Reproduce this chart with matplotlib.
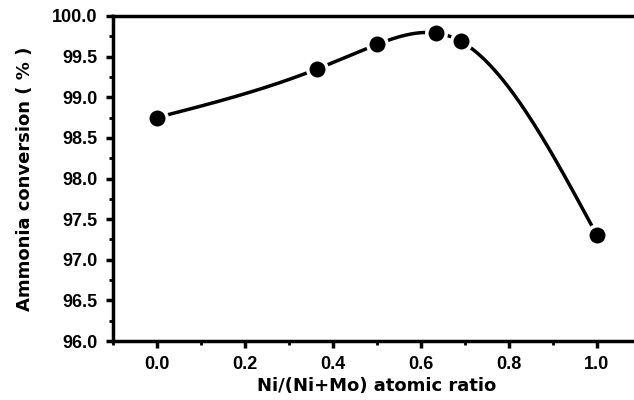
import matplotlib
matplotlib.use('Agg')
import matplotlib.pyplot as plt
from matplotlib.ticker import MultipleLocator
import numpy as np

# Data
ni_ratio = [0.0, 0.365, 0.50, 0.635, 0.69, 1.0]
conversion = [98.75, 99.35, 99.65, 99.79, 99.69, 97.30]


def natural_spline(x, y, n=400):
    """Natural cubic spline through the points (for drawing the smooth curve)."""
    x = np.asarray(x, float)
    y = np.asarray(y, float)
    h = np.diff(x)
    k = len(x)
    A = np.zeros((k, k))
    b = np.zeros(k)
    A[0, 0] = A[-1, -1] = 1.0
    for i in range(1, k - 1):
        A[i, i - 1] = h[i - 1]
        A[i, i] = 2 * (h[i - 1] + h[i])
        A[i, i + 1] = h[i]
        b[i] = 6 * ((y[i + 1] - y[i]) / h[i] - (y[i] - y[i - 1]) / h[i - 1])
    M = np.linalg.solve(A, b)
    xs = np.linspace(x[0], x[-1], n)
    idx = np.clip(np.searchsorted(x, xs) - 1, 0, k - 2)
    x0, x1 = x[idx], x[idx + 1]
    hh = x1 - x0
    ys = (M[idx] * (x1 - xs) ** 3 / (6 * hh) + M[idx + 1] * (xs - x0) ** 3 / (6 * hh)
          + (y[idx] / hh - M[idx] * hh / 6) * (x1 - xs)
          + (y[idx + 1] / hh - M[idx + 1] * hh / 6) * (xs - x0))
    return xs, ys


plt.rcParams['font.family'] = ['Liberation Sans', 'DejaVu Sans']
plt.rcParams['font.weight'] = 'bold'

fig = plt.figure(figsize=(6.34, 4.0), dpi=100)
ax = fig.add_axes([0.178, 0.1475, 0.833, 0.8125])

xs, ys = natural_spline(ni_ratio, conversion)
ax.plot(xs, ys, color='black', lw=2.5, zorder=2)
ax.plot(ni_ratio, conversion, 'o', color='black', ms=14,
        mec='white', mew=2.5, zorder=3)

ax.set_xlim(-0.1, 1.1)
ax.set_ylim(96.0, 100.0)
ax.xaxis.set_major_locator(MultipleLocator(0.2))
ax.xaxis.set_minor_locator(MultipleLocator(0.1))
ax.yaxis.set_major_locator(MultipleLocator(0.5))
ax.yaxis.set_minor_locator(MultipleLocator(0.25))
ax.set_xticks([0.0, 0.2, 0.4, 0.6, 0.8, 1.0])

for s in ax.spines.values():
    s.set_linewidth(2.5)

ax.tick_params(which='major', direction='out', length=5, width=2.5,
               labelsize=13, pad=6)
ax.tick_params(which='minor', direction='out', length=3, width=2)
ax.tick_params(axis='x', pad=6)
for lab in ax.get_xticklabels() + ax.get_yticklabels():
    lab.set_fontweight('bold')

ax.set_xlabel('Ni/(Ni+Mo) atomic ratio', fontsize=13, fontweight='bold',
              family='DejaVu Sans', labelpad=3)
ax.set_ylabel('Ammonia conversion ( % )', fontsize=13, fontweight='bold',
              family='DejaVu Sans', labelpad=13)

fig.savefig('out.png', dpi=100)
